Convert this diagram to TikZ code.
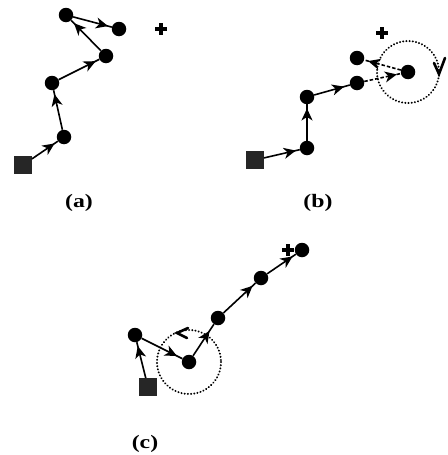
\documentclass[tikz,border=0pt]{standalone}
\usepackage{fontspec}
\setmainfont{Liberation Serif}
\usetikzlibrary{arrows.meta,decorations.markings}
\tikzset{
  pt/.style={circle,fill=black,inner sep=0pt,minimum size=14.5pt},
  start/.style={rectangle,fill=black!85,inner sep=0pt,minimum size=17.5pt},
  link/.style={line width=1.6pt,postaction={decorate},
    decoration={markings,mark=at position -#1 with
      {\arrow{Stealth[length=12pt,width=11pt,inset=3.5pt]}}}},
  link/.default=4pt,
  dashlink/.style={link=#1,dash pattern=on 3.5pt off 2pt},
  dashlink/.default=4pt,
  orbit/.style={line width=2.2pt,dash pattern=on 0.01pt off 3.2pt,line cap=round},
  turn/.style={line width=2.6pt,line cap=round,line join=miter},
  lbl/.style={font=\bfseries\fontsize{19}{19}\selectfont,xscale=1.25,inner sep=0pt},
  plusmark/.pic={\fill (-6pt,-1.8pt) rectangle (6pt,1.8pt);
                 \fill (-1.8pt,-6pt) rectangle (1.8pt,6pt);}
}
\begin{document}
\begin{tikzpicture}[x=1pt,y=-1pt]
\useasboundingbox (0,0) rectangle (447,455);

% ---- (a) ----
\node[start] (a0) at (23,165) {};
\node[pt] (a1) at (64,137) {};
\node[pt] (a2) at (52,83) {};
\node[pt] (a3) at (106,56) {};
\node[pt] (a4) at (66,15) {};
\node[pt] (a5) at (119,29) {};
\pic at (161,29) {plusmark};
\draw[link] (a0) -- (a1);
\draw[link] (a1) -- (a2);
\draw[link] (a2) -- (a3);
\draw[link] (a3) -- (a4);
\draw[link] (a4) -- (a5);
\node[lbl] (la) at (79,203) {(a)};

% ---- (b) ----
\node[start] (b0) at (255,160) {};
\node[pt] (b1) at (307,148) {};
\node[pt] (b2) at (307,97) {};
\node[pt] (b3) at (357,83) {};
\node[pt] (b4) at (357,58) {};
\node[pt] (b5) at (408,72) {};
\pic at (382,33) {plusmark};
\draw[link] (b0) -- (b1);
\draw[link] (b1) -- (b2);
\draw[link=6pt] (b2) -- (b3);
\draw[dashlink] (b3) -- (b5);
\draw[dashlink] (b5) -- (b4);
\draw[orbit] (b5) circle[radius=31];
\coordinate (bt) at (439,74);
\draw[turn] (434,63) -- (bt) -- (445,58);
\node[lbl] (lb) at (318,203) {(b)};

% ---- (c) ----
\node[start] (c0) at (148,387) {};
\node[pt] (c1) at (135,335) {};
\node[pt] (c2) at (189,362) {};
\node[pt] (c3) at (218,318) {};
\node[pt] (c4) at (261,278) {};
\node[pt] (c5) at (302,250) {};
\pic at (288,250) {plusmark};
\draw[link] (c0) -- (c1);
\draw[link=6pt] (c1) -- (c2);
\draw[link=8pt] (c2) -- (c3);
\draw[link] (c3) -- (c4);
\draw[link] (c4) -- (c5);
\draw[orbit] (c2) circle[radius=32];
\coordinate (ct) at (177,333);
\draw[turn] (188,328) -- (ct) -- (187,338);
\node[lbl] (lc) at (145,444) {(c)};
\end{tikzpicture}
\end{document}
